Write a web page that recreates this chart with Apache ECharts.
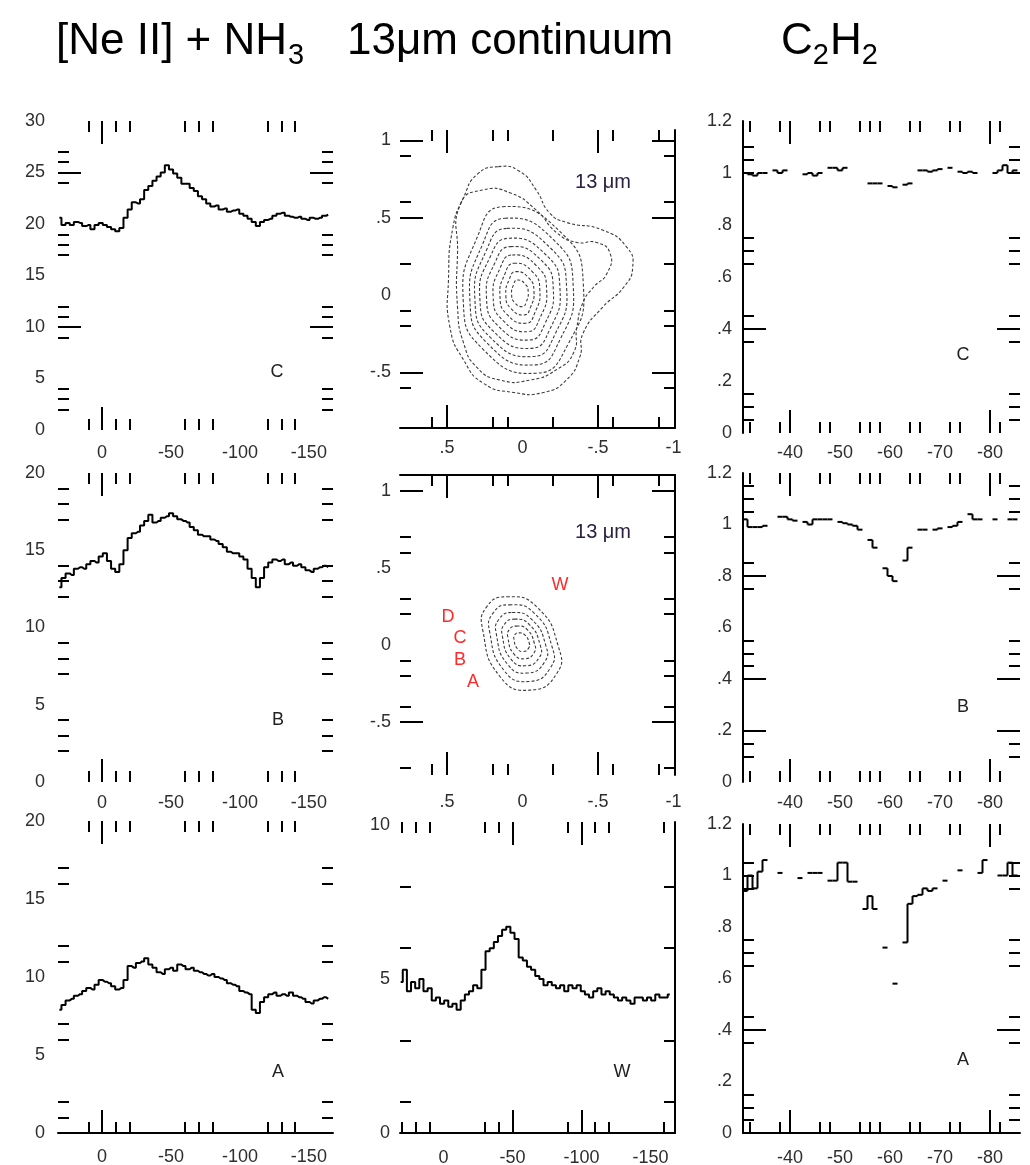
<!DOCTYPE html>
<html><head><meta charset="utf-8">
<script src="https://cdn.jsdelivr.net/npm/echarts@6/dist/echarts.min.js"></script>
<style>html,body{margin:0;padding:0;background:#fff;}#chart{width:1030px;height:1165px;}</style>
</head><body><div id="chart"></div>
<script>
// ---------------- DATA ----------------
// velocity grid (km/s) for [Ne II] + NH3 and the W spectrum
const velNe = [31,28,25,22,19,16,13,10,7,4,1,-2,-5,-8,-11,-14,-17,-20,-23,-26,-29,-32,-35,-38,-41,-44,-47,-50,-53,-56,-59,-62,-65,-68,-71,-74,-77,-80,-83,-86,-89,-92,-95,-98,-101,-104,-107,-110,-113,-116,-119,-122,-125,-128,-131,-134,-137,-140,-143,-146,-149,-152,-155,-158,-161,-164];
const neC = [20.6,19.9,20.1,19.9,20.2,20.1,19.8,19.9,19.5,19.9,20.1,19.9,19.7,19.5,19.3,19.6,20.6,21.4,22.1,22.0,22.4,23.3,23.7,24.2,24.6,25.0,25.7,25.3,24.9,24.5,23.9,23.9,23.5,23.2,22.7,22.4,22.0,21.7,21.8,21.4,21.5,21.2,21.3,21.4,21.0,20.8,20.5,20.2,19.8,20.2,20.4,20.5,20.8,21.0,21.1,20.8,20.7,20.6,20.7,20.5,20.4,20.6,20.5,20.6,20.8,20.9];
const neB = [12.6,13.2,13.5,13.4,13.8,13.9,13.8,14.1,14.3,14.2,14.6,14.8,14.3,13.8,13.6,14.1,15.0,15.8,16.1,16.2,16.6,16.9,17.3,16.8,16.9,17.1,17.2,17.4,17.2,17.0,16.9,16.8,16.5,16.3,16.0,15.9,15.9,15.7,15.6,15.4,15.2,14.9,14.8,14.8,14.6,14.4,13.8,13.2,12.6,13.2,13.9,14.2,14.4,14.3,14.4,14.1,14.2,14.0,14.1,13.9,13.7,13.6,13.8,13.9,14.0,13.9];
const neA = [7.9,8.2,8.5,8.6,8.8,8.9,9.1,9.3,9.2,9.5,9.8,9.7,9.6,9.4,9.2,9.3,9.8,10.7,10.6,10.9,11.0,11.2,10.8,10.6,10.3,10.2,10.5,10.6,10.4,10.8,10.7,10.5,10.6,10.4,10.3,10.2,10.1,10.2,10.0,9.9,9.8,9.6,9.5,9.4,9.1,9.0,8.9,7.9,7.7,8.4,8.7,8.9,9.0,8.8,8.9,8.8,9.0,8.8,8.7,8.6,8.4,8.3,8.5,8.6,8.7,8.6];
const contW = [4.9,5.3,4.6,4.9,4.7,5.0,4.6,4.7,4.3,4.4,4.2,4.3,4.1,4.2,4.0,4.3,4.5,4.6,4.8,4.7,5.3,5.9,6.0,6.2,6.4,6.6,6.7,6.5,6.3,5.7,5.6,5.4,5.3,5.1,5.0,4.8,4.9,4.8,4.7,4.8,4.6,4.8,4.7,4.8,4.6,4.5,4.4,4.6,4.7,4.5,4.6,4.5,4.4,4.3,4.4,4.3,4.2,4.4,4.4,4.3,4.4,4.3,4.5,4.4,4.4,4.5];

// velocity grid (km/s) for C2H2
const velC2 = [-31,-32,-33,-34,-35,-36,-37,-38,-39,-40,-41,-42,-43,-44,-45,-46,-47,-48,-49,-50,-51,-52,-53,-54,-55,-56,-57,-58,-59,-60,-61,-62,-63,-64,-65,-66,-67,-68,-69,-70,-71,-72,-73,-74,-75,-76,-77,-78,-79,-80,-81,-82,-83,-84,-85];
const c2C = [1.0,0.995,0.99,1.0,1.0,null,1.01,1.0,1.01,null,null,null,0.995,1.0,0.99,1.0,null,1.02,1.02,1.01,1.02,null,null,null,null,0.96,0.96,0.96,null,0.95,0.945,null,0.955,0.96,null,1.01,1.01,1.005,1.01,1.015,null,1.02,null,1.005,1.0,1.005,1.0,null,null,null,1.0,1.01,1.03,1.0,1.01];
const c2B = [1.02,0.99,0.99,0.99,0.995,null,null,1.03,1.03,1.02,1.015,null,1.01,1.0,1.02,1.02,1.02,1.02,null,1.01,1.005,1.0,0.995,0.98,null,0.94,0.91,null,0.83,0.80,0.78,null,0.86,0.91,null,0.98,0.98,null,0.98,0.985,null,0.99,0.995,1.01,null,1.04,1.02,1.02,null,null,1.02,null,null,1.02,1.02];
const c2A = [0.94,1.0,0.95,1.015,1.06,null,null,1.01,null,null,null,0.99,null,1.01,1.01,1.01,null,0.98,0.98,1.05,1.05,0.976,0.976,null,0.87,0.92,0.87,null,0.72,null,0.58,null,0.74,0.89,0.92,0.925,0.95,0.94,0.95,null,0.98,null,null,1.02,null,null,null,1.01,1.06,null,null,1.0,1.0,1.05,1.0];

// 13 micron continuum contours (offsets in arcsec)
const contoursTop = [
  [[0.16,0.83],[0.02,0.80],[-0.09,0.68],[-0.18,0.53],[-0.29,0.47],[-0.53,0.42],[-0.69,0.31],[-0.73,0.18],[-0.67,0.05],[-0.53,-0.08],[-0.40,-0.25],[-0.38,-0.40],[-0.29,-0.55],[-0.14,-0.63],[0.06,-0.63],[0.26,-0.57],[0.39,-0.42],[0.48,-0.21],[0.49,0.10],[0.46,0.44],[0.39,0.63],[0.30,0.78]],
  [[0.41,0.59],[0.26,0.68],[0.08,0.66],[-0.09,0.55],[-0.23,0.40],[-0.36,0.34],[-0.49,0.34],[-0.58,0.27],[-0.56,0.14],[-0.47,0.05],[-0.40,-0.05],[-0.36,-0.21],[-0.34,-0.37],[-0.23,-0.48],[-0.05,-0.55],[0.15,-0.55],[0.30,-0.47],[0.39,-0.31],[0.43,-0.08],[0.43,0.27]],
  [[0.132,0.571],[-0.256,0.403],[-0.403,0.067],[-0.298,-0.325],[-0.089,-0.506],[0.261,-0.351],[0.392,-0.041],[0.299,0.375]],
  [[0.116,0.496],[-0.213,0.350],[-0.336,0.059],[-0.248,-0.290],[-0.078,-0.452],[0.232,-0.313],[0.348,-0.035],[0.265,0.326]],
  [[0.103,0.431],[-0.184,0.305],[-0.292,0.053],[-0.215,-0.255],[-0.067,-0.398],[0.211,-0.276],[0.315,-0.030],[0.241,0.284]],
  [[0.090,0.367],[-0.155,0.260],[-0.248,0.047],[-0.182,-0.220],[-0.056,-0.345],[0.189,-0.238],[0.282,-0.025],[0.216,0.242]],
  [[0.079,0.313],[-0.127,0.222],[-0.204,0.041],[-0.149,-0.185],[-0.045,-0.291],[0.161,-0.200],[0.238,-0.019],[0.183,0.207]],
  [[0.068,0.259],[-0.098,0.184],[-0.160,0.036],[-0.115,-0.150],[-0.034,-0.237],[0.132,-0.162],[0.194,-0.014],[0.149,0.172]],
  [[0.057,0.205],[-0.069,0.147],[-0.115,0.030],[-0.082,-0.115],[-0.023,-0.183],[0.103,-0.125],[0.149,-0.008],[0.116,0.137]],
  [[0.046,0.151],[-0.043,0.109],[-0.076,0.025],[-0.053,-0.080],[-0.012,-0.129],[0.077,-0.087],[0.110,-0.003],[0.087,0.102]],
  [[0.035,0.097],[-0.018,0.071],[-0.038,0.020],[-0.025,-0.045],[-0.001,-0.075],[0.052,-0.049],[0.072,0.002],[0.059,0.067]]
];
const contoursMid = [
  [[0.104,0.313],[-0.094,0.248],[-0.238,-0.011],[-0.227,-0.185],[-0.050,-0.293],[0.148,-0.206],[0.263,0.097],[0.237,0.248]],
  [[0.087,0.261],[-0.077,0.207],[-0.194,-0.005],[-0.185,-0.148],[-0.039,-0.237],[0.122,-0.165],[0.217,0.084],[0.195,0.207]],
  [[0.069,0.211],[-0.059,0.168],[-0.154,-0.001],[-0.145,-0.113],[-0.030,-0.182],[0.098,-0.126],[0.173,0.071],[0.155,0.168]],
  [[0.054,0.168],[-0.044,0.134],[-0.116,0.004],[-0.110,-0.083],[-0.021,-0.135],[0.076,-0.092],[0.133,0.058],[0.120,0.134]],
  [[0.040,0.123],[-0.030,0.101],[-0.079,0.010],[-0.077,-0.050],[-0.015,-0.089],[0.056,-0.059],[0.096,0.047],[0.087,0.101]],
  [[0.025,0.079],[-0.015,0.066],[-0.044,0.015],[-0.041,-0.020],[-0.006,-0.042],[0.034,-0.024],[0.056,0.036],[0.051,0.066]]
];

// tick values / tick labels
const neXMajor = [0], neXMinor = [10,-10,-20,-60,-70,-80,-120,-130,-140], neXLabels = [0,-50,-100,-150];
const neCYMajor = [25,10], neCYMinor = [27,26,24,19,18,17,12,11,9,4,3,2], neCYLabels = [0,5,10,15,20,25,30];
const neBYMajor = [], neBYMinor = [19,18,17,14,13,12,9,8,7,4,3,2], neBYLabels = [0,5,10,15,20];
const neAYMajor = [], neAYMinor = [17,16,12,11,7,6,2,1], neAYLabels = [0,5,10,15,20];
const mapXMajor = [0.5,-0.5], mapXMinor = [0.6,0.2,0.1,-0.2,-0.6,-0.9], mapXLabels = [0.5,0,-0.5,-1];
const map1YMajor = [1,0.5,-0.5], map1YMinor = [0.9,0.6,0.2,-0.1,-0.2,-0.6], mapYLabels = [1,0.5,0,-0.5];
const map2YMajor = [1,-0.5], map2YMinor = [0.7,0.6,0.3,0.2,-0.1,-0.2,-0.4,-0.8];
const wXMajor = [-50,-100], wXMinor = [30,20,10,-30,-40,-90,-110,-120,-160], wXLabels = [0,-50,-100,-150];
const wYMajor = [], wYMinor = [8,6,3,1], wYLabels = [0,5,10];
const c2XMajor = [-40,-80], c2XMinor = [-32,-38,-46,-48,-54,-56,-58,-64,-66,-72,-74,-82], c2XLabels = [-40,-50,-60,-70,-80];
const c2CYMajor = [0.4], c2CYMinor = [1.1,1.05,1.0,0.75,0.7,0.65,0.45,0.35,0.15,0.1,0.05];
const c2BYMajor = [0.8,0.4,0.2], c2BYMinor = [1.15,1.1,1.05,0.85,0.75,0.55,0.5,0.45,0.15,0.1];
const c2AYMajor = [0.4], c2AYMinor = [1.05,1.0,0.95,0.75,0.7,0.65,0.45,0.35,0.15,0.1,0.05];
const c2YLabels = [0,0.2,0.4,0.6,0.8,1,1.2];

// ---------------- LAYOUT ----------------
const FONT = 'Liberation Sans, Arial, Helvetica, sans-serif';
const LONG = 23, SHORT = 11;
const panels = [
  {g:{left:58,top:121,width:275,height:309}, x:[-167.5,32], y:[0,30], xt:[neXMajor,neXMinor,neXLabels], yt:[neCYMajor,neCYMinor,neCYLabels], ln:{}, xm:14, ym:13},
  {g:{left:400,top:130,width:275,height:298}, x:[-1.01,0.811], y:[-0.86,1.067], xt:[mapXMajor,mapXMinor,mapXLabels], yt:[map1YMajor,map1YMinor,mapYLabels], ln:{r:1,b:1}, xm:11, ym:9},
  {g:{left:743,top:121,width:277,height:312}, x:[-86,-30.6], y:[0,1.2], xt:[c2XMajor,c2XMinor,c2XLabels], yt:[c2CYMajor,c2CYMinor,c2YLabels], ln:{l:1}, xm:11, ym:11},
  {g:{left:58,top:473,width:275,height:309}, x:[-167.5,32], y:[0,20], xt:[neXMajor,neXMinor,neXLabels], yt:[neBYMajor,neBYMinor,neBYLabels], ln:{}, xm:12, ym:13},
  {g:{left:400,top:475,width:275,height:300}, x:[-1.01,0.811], y:[-0.844,1.104], xt:[mapXMajor,mapXMinor,mapXLabels], yt:[map2YMajor,map2YMinor,mapYLabels], ln:{t:1,r:1}, xm:18, ym:9},
  {g:{left:743,top:473,width:277,height:309}, x:[-86,-30.6], y:[0,1.2], xt:[c2XMajor,c2XMinor,c2XLabels], yt:[c2BYMajor,c2BYMinor,c2YLabels], ln:{l:1}, xm:12, ym:11},
  {g:{left:58,top:821,width:275,height:312}, x:[-167.5,32], y:[0,20], xt:[neXMajor,neXMinor,neXLabels], yt:[neAYMajor,neAYMinor,neAYLabels], ln:{b:1}, xm:15, ym:13},
  {g:{left:400,top:822,width:275,height:311}, x:[-167.8,31.5], y:[0,10.1], xt:[wXMajor,wXMinor,wXLabels], yt:[wYMajor,wYMinor,wYLabels], ln:{r:1,b:1}, xm:16, ym:10},
  {g:{left:743,top:824,width:277,height:309}, x:[-86,-30.6], y:[0,1.2], xt:[c2XMajor,c2XMinor,c2XLabels], yt:[c2AYMajor,c2AYMinor,c2YLabels], ln:{l:1,b:1}, xm:16, ym:11}
];

const fmt = v => String(+(+v).toFixed(2)).replace(/^(-?)0\./, '$1.');
const lineSt = {color:'#000', width:2};
const grid = [], xAxis = [], yAxis = [];
function tick(vals, len) {
  return vals.length ? {show:true, inside:true, length:len, lineStyle:{color:'#000', width:2}, customValues:vals} : {show:false};
}
panels.forEach((P, i) => {
  grid.push(Object.assign({containLabel:false, outerBoundsMode:'none'}, P.g));
  const bx = {type:'value', gridIndex:i, min:P.x[0], max:P.x[1], inverse:true, splitLine:{show:false}, axisPointer:{show:false}};
  const by = {type:'value', gridIndex:i, min:P.y[0], max:P.y[1], splitLine:{show:false}, axisPointer:{show:false}};
  const lab = (vals, m) => ({show:true, customValues:vals, formatter:fmt, margin:m, fontSize:18, fontFamily:FONT, color:'#2e2e2e'});
  xAxis.push(Object.assign({}, bx, {position:'bottom', axisLine:{show:false,onZero:false}, axisTick:tick(P.xt[0],LONG), axisLabel:lab(P.xt[2],P.xm)}));
  xAxis.push(Object.assign({}, bx, {position:'bottom', axisLine:{show:!!P.ln.b,onZero:false,lineStyle:lineSt}, axisTick:tick(P.xt[1],SHORT), axisLabel:{show:false}}));
  xAxis.push(Object.assign({}, bx, {position:'top', axisLine:{show:false,onZero:false}, axisTick:tick(P.xt[0],LONG), axisLabel:{show:false}}));
  xAxis.push(Object.assign({}, bx, {position:'top', axisLine:{show:!!P.ln.t,onZero:false,lineStyle:lineSt}, axisTick:tick(P.xt[1],SHORT), axisLabel:{show:false}}));
  yAxis.push(Object.assign({}, by, {position:'left', axisLine:{show:false,onZero:false}, axisTick:tick(P.yt[0],LONG), axisLabel:lab(P.yt[2],P.ym)}));
  yAxis.push(Object.assign({}, by, {position:'left', axisLine:{show:!!P.ln.l,onZero:false,lineStyle:lineSt}, axisTick:tick(P.yt[1],SHORT), axisLabel:{show:false}}));
  yAxis.push(Object.assign({}, by, {position:'right', axisLine:{show:false,onZero:false}, axisTick:tick(P.yt[0],LONG), axisLabel:{show:false}}));
  yAxis.push(Object.assign({}, by, {position:'right', axisLine:{show:!!P.ln.r,onZero:false,lineStyle:lineSt}, axisTick:tick(P.yt[1],SHORT), axisLabel:{show:false}}));
});

function spectrum(vals, p) {
  return {type:'line', xAxisIndex:4*p, yAxisIndex:4*p, step:'middle', symbol:'none', silent:true,
    lineStyle:{color:'#000', width:2}, data: velNe.map((v, k) => [v, vals[k]])};
}
function contours(rings, p) {
  return {type:'custom', xAxisIndex:4*p, yAxisIndex:4*p, silent:true, encode:{x:0, y:1},
    data: rings.map(r => r[0]),
    renderItem: (params, api) => ({type:'polygon',
      shape:{points: rings[params.dataIndex].map(pt => api.coord(pt)), smooth:0.55},
      style:{fill:'none', stroke:'#3c3c3c', lineWidth:1.1, lineDash:[3,2]}})};
}
function c2Steps(vals, p) {
  const half = Math.abs(velC2[1] - velC2[0]) / 2;
  const data = [];
  velC2.forEach((v, k) => { if (vals[k] != null) data.push([v, vals[k], (k > 0 && vals[k-1] != null) ? vals[k-1] : -9]); });
  return {type:'custom', xAxisIndex:4*p, yAxisIndex:4*p, silent:true, encode:{x:0, y:1}, data,
    renderItem: (params, api) => {
      const v = api.value(0), y = api.value(1), pr = api.value(2);
      const a = api.coord([v + half, y]), b = api.coord([v - half, y]);
      const st = {stroke:'#000', lineWidth:2};
      const ch = [{type:'line', shape:{x1:a[0], y1:a[1], x2:b[0], y2:b[1]}, style:st}];
      if (pr > -1) { const c = api.coord([v + half, pr]); ch.push({type:'line', shape:{x1:a[0], y1:c[1], x2:a[0], y2:a[1]}, style:st}); }
      return {type:'group', children:ch};
    }};
}

// ---------------- TEXT ----------------
const ctx = document.createElement('canvas').getContext('2d');
const tw = (t, s) => { ctx.font = s + 'px "Liberation Sans"'; return ctx.measureText(t).width; };
const HS = 44, SS = 29, HY = 42, SY = 56;
function txt(x, y, t, size, fill, align) {
  return {type:'text', x, y, silent:true, style:{text:t, fontSize:size, fontFamily:FONT, fill, align:align||'center', verticalAlign:'middle'}};
}
const g = [];
let x0 = 56;
g.push(txt(x0, HY, '[Ne II] + NH', HS, '#000', 'left'));
g.push(txt(x0 + tw('[Ne II] + NH', HS) + 1, SY, '3', SS, '#000', 'left'));
g.push(txt(347, HY, '13μm continuum', HS, '#000', 'left'));
x0 = 781;
g.push(txt(x0, HY, 'C', HS, '#000', 'left')); x0 += tw('C', HS);
g.push(txt(x0, SY, '2', SS, '#000', 'left')); x0 += tw('2', SS) + 1;
g.push(txt(x0, HY, 'H', HS, '#000', 'left')); x0 += tw('H', HS);
g.push(txt(x0, SY, '2', SS, '#000', 'left'));
[['C',277,372],['B',278,720],['A',278,1072],['W',622,1072],['C',963,355],['B',963,707],['A',963,1060]].forEach(a => g.push(txt(a[1], a[2], a[0], 18, '#222')));
g.push(txt(603, 182, '13 μm', 20, '#2a2040'));
g.push(txt(603, 532, '13 μm', 20, '#2a2040'));
[['D',448,617],['C',460,638],['B',460,660],['A',473,682],['W',560,585]].forEach(a => g.push(txt(a[1], a[2], a[0], 18, '#ff2a2a')));

const chart = echarts.init(document.getElementById('chart'), null, {renderer:'canvas'});
chart.setOption({
  animation:false, backgroundColor:'#fff',
  textStyle:{fontFamily:FONT},
  grid, xAxis, yAxis,
  series:[
    spectrum(neC, 0), contours(contoursTop, 1), c2Steps(c2C, 2),
    spectrum(neB, 3), contours(contoursMid, 4), c2Steps(c2B, 5),
    spectrum(neA, 6), spectrum(contW, 7), c2Steps(c2A, 8)
  ],
  graphic: g
});
</script></body></html>
